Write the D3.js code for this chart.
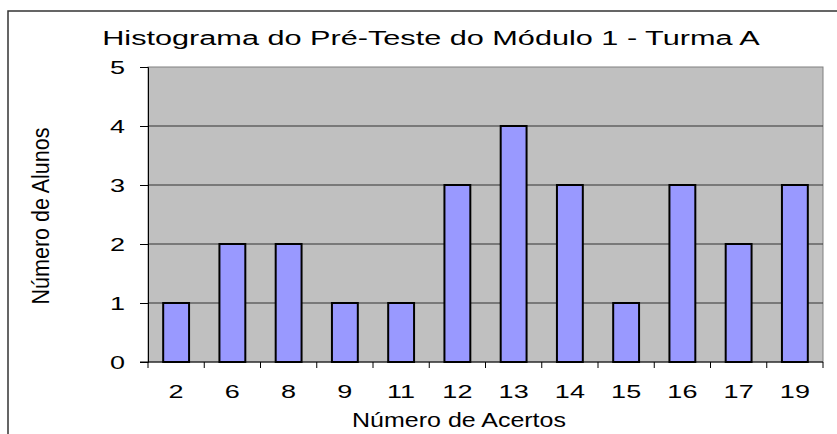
<!DOCTYPE html>
<html>
<head>
<meta charset="utf-8">
<script src="https://cdn.jsdelivr.net/npm/d3@7"></script>
<style>
  body { margin: 0; background: #fff; }
  text { font-family: "Liberation Sans", Arial, sans-serif; fill: #000; }
</style>
</head>
<body>
<div class="chart"></div>
<script>
// data
const categories = ["2", "6", "8", "9", "11", "12", "13", "14", "15", "16", "17", "19"];
const alunos = [1, 2, 2, 1, 1, 3, 4, 3, 1, 3, 2, 3];
const yTicks = [0, 1, 2, 3, 4, 5];

// dimensions
const width = 837;
const height = 434;
const plot = { left: 148, top: 67, right: 823, bottom: 362 };
const stretch = 1.5; // glyphs in the reference are wide

const svg = d3
  .select(".chart")
  .append("svg")
  .attr("width", width)
  .attr("height", height);

// outer frame
svg
  .append("rect")
  .attr("x", 8)
  .attr("y", 11)
  .attr("width", 860)
  .attr("height", 460)
  .attr("fill", "none")
  .attr("stroke", "#333")
  .attr("stroke-width", 1.5);

const x = d3
  .scaleBand()
  .domain(categories)
  .range([plot.left, plot.right])
  .paddingInner(0.54)
  .paddingOuter(0.27);

const y = d3.scaleLinear().domain([0, 5]).range([plot.bottom, plot.top]);

// plot background
svg
  .append("rect")
  .attr("x", plot.left)
  .attr("y", plot.top)
  .attr("width", plot.right - plot.left)
  .attr("height", plot.bottom - plot.top)
  .attr("fill", "#c0c0c0")
  .attr("stroke", "#808080")
  .attr("stroke-width", 1);

// gridlines
svg
  .selectAll(".grid")
  .data(yTicks.slice(1, -1))
  .enter()
  .append("line")
  .attr("x1", plot.left)
  .attr("x2", plot.right)
  .attr("y1", (d) => y(d))
  .attr("y2", (d) => y(d))
  .attr("stroke", "#333")
  .attr("stroke-width", 1);

// bars
svg
  .selectAll(".bar")
  .data(alunos)
  .enter()
  .append("rect")
  .attr("x", (d, i) => x(categories[i]))
  .attr("y", (d) => y(d))
  .attr("width", x.bandwidth())
  .attr("height", (d) => y(0) - y(d))
  .attr("fill", "#9999ff")
  .attr("stroke", "#000")
  .attr("stroke-width", 2);

// y axis (labels drawn separately so they can be stretched)
const yAxis = svg
  .append("g")
  .attr("transform", "translate(" + plot.left + ",0)")
  .call(d3.axisLeft(y).tickValues(yTicks).tickSize(8).tickFormat(""));
yAxis.select(".domain").attr("stroke", "#000");
yAxis.selectAll("line").attr("stroke", "#000");

svg
  .selectAll(".ylabel")
  .data(yTicks)
  .enter()
  .append("text")
  .attr("transform", (d) => "translate(125," + (y(d) + 6.5) + ") scale(" + stretch + ",1)")
  .attr("text-anchor", "end")
  .attr("font-size", 18)
  .text(d3.format("d"));

// x axis, ticks between categories
const step = x.step();
const xAxis = svg
  .append("g")
  .attr("transform", "translate(0," + plot.bottom + ")");
xAxis
  .append("line")
  .attr("x1", plot.left - 8)
  .attr("x2", plot.right)
  .attr("stroke", "#000");
xAxis
  .selectAll(".xtick")
  .data(d3.range(categories.length + 1))
  .enter()
  .append("line")
  .attr("x1", (i) => plot.left + i * step)
  .attr("x2", (i) => plot.left + i * step)
  .attr("y1", 0)
  .attr("y2", 6)
  .attr("stroke", "#000");
xAxis
  .selectAll(".xlabel")
  .data(categories)
  .enter()
  .append("text")
  .attr("transform", (d) => "translate(" + (x(d) + x.bandwidth() / 2) + ",36) scale(" + stretch + ",1)")
  .attr("text-anchor", "middle")
  .attr("font-size", 18)
  .text((d) => d);

// stretch a text horizontally to a target width
function fitText(sel, cx, cy, target) {
  const w = sel.node().getComputedTextLength();
  sel.attr("transform", "translate(" + cx + "," + cy + ") scale(" + target / w + ",1)");
}

// titles
const title = svg
  .append("text")
  .attr("text-anchor", "middle")
  .attr("font-size", 21)
  .text("Histograma do Pré-Teste do Módulo 1 - Turma A");
fitText(title, 431, 45, 658);

const xTitle = svg
  .append("text")
  .attr("text-anchor", "middle")
  .attr("font-size", 21)
  .text("Número de Acertos");
fitText(xTitle, 459, 427, 214);

svg
  .append("text")
  .attr("transform", "translate(49,216) rotate(-90) scale(1," + stretch + ")")
  .attr("text-anchor", "middle")
  .attr("font-size", 16)
  .attr("textLength", 177)
  .attr("lengthAdjust", "spacingAndGlyphs")
  .text("Número de Alunos");
</script>
</body>
</html>
